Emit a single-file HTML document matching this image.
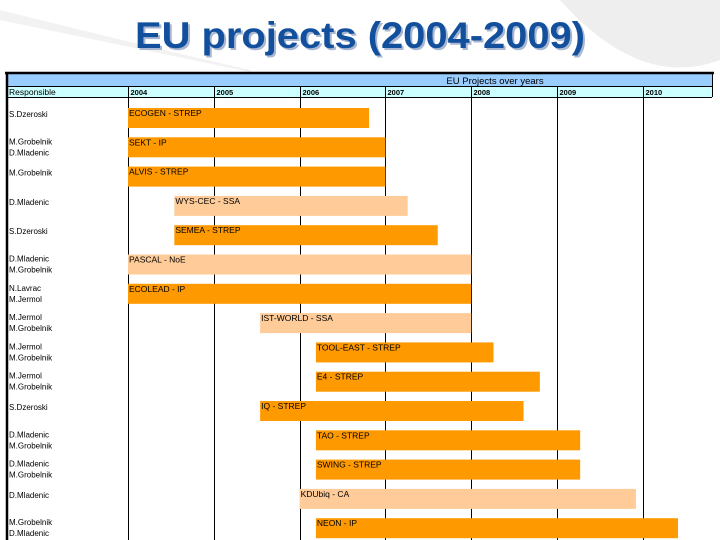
<!DOCTYPE html>
<html><head><meta charset="utf-8"><style>
html,body{margin:0;padding:0;background:#fff;}
svg{display:block;font-family:"Liberation Sans",Arial,sans-serif;}
</style></head><body>
<svg id="c" width="720" height="540" viewBox="0 0 720 540">
  <g>
    <rect x="0" y="0" width="720" height="540" fill="#ffffff"/>
    <path d="M560 0 Q640 90 720 60 L720 0 Z" fill="#eeeeee"/>
    <path d="M0 10 Q120 40 250 70 L250 72 Q120 45 0 20 Z" fill="#f2f2f2"/>
  </g>
  <text x="135" y="48" font-size="37" font-weight="bold" fill="#a9b8d0" textLength="450" lengthAdjust="spacingAndGlyphs" transform="translate(2,2)">EU projects (2004-2009)</text>
  <text x="135" y="48" font-size="37" font-weight="bold" fill="#124f9d" textLength="450" lengthAdjust="spacingAndGlyphs">EU projects (2004-2009)</text>
  <g>
    <rect x="7" y="74" width="705" height="12" fill="#99ccff"/>
    <text x="495" y="84" font-size="9.5" text-anchor="middle" fill="#000">EU Projects over years</text>
    <rect x="7" y="87" width="705" height="10" fill="#ccffff"/>
    <text x="9" y="95" font-size="8.5" fill="#000">Responsible</text>
  </g>
  <g id="grid"></g>
  <g id="bars"></g>
  <g id="names"></g>
  <g>
    <line x1="5" y1="73" x2="714" y2="73" stroke="#000" stroke-width="2.5"/>
    <line x1="7" y1="86.5" x2="712" y2="86.5" stroke="#000" stroke-width="1"/>
    <line x1="7" y1="97.5" x2="712" y2="97.5" stroke="#000" stroke-width="1"/>
    <line x1="7" y1="72" x2="7" y2="540" stroke="#000" stroke-width="2.5"/>
    <line x1="712.5" y1="73" x2="712.5" y2="97" stroke="#000" stroke-width="1"/>
  </g>
</svg>
<script>
const years = [2004, 2005, 2006, 2007, 2008, 2009, 2010];
const projects = ["ECOGEN - STREP","SEKT - IP","ALVIS - STREP","WYS-CEC - SSA","SEMEA - STREP","PASCAL - NoE","ECOLEAD - IP","IST-WORLD - SSA","TOOL-EAST - STREP","E4 - STREP","IQ - STREP","TAO - STREP","SWING - STREP","KDUbiq - CA","NEON - IP"];
const startYear = [2004.0,2004.0,2004.0,2004.54,2004.54,2004.0,2004.0,2005.54,2006.19,2006.19,2005.54,2006.19,2006.19,2006.0,2006.19];
const endYear = [2006.81,2007.0,2007.0,2007.26,2007.61,2008.0,2008.0,2008.0,2008.26,2008.8,2008.61,2009.27,2009.27,2009.92,2010.41];
const light = [0,0,0,1,0,1,0,1,0,0,0,0,0,1,0];
const responsible = [["S.Dzeroski"],["M.Grobelnik","D.Mladenic"],["M.Grobelnik"],["D.Mladenic"],["S.Dzeroski"],["D.Mladenic","M.Grobelnik"],["N.Lavrac","M.Jermol"],["M.Jermol","M.Grobelnik"],["M.Jermol","M.Grobelnik"],["M.Jermol","M.Grobelnik"],["S.Dzeroski"],["D.Mladenic","M.Grobelnik"],["D.Mladenic","M.Grobelnik"],["D.Mladenic"],["M.Grobelnik","D.Mladenic"]];

const NS = "http://www.w3.org/2000/svg";
function x(v){ return 128 + (v - 2004) * 85.8; }
function rowTop(i){ return 108 + i * 29.3; }
function mk(tag, attrs, parent){
  const e = document.createElementNS(NS, tag);
  for (const k in attrs) e.setAttribute(k, attrs[k]);
  parent.appendChild(e); return e;
}
const grid = document.getElementById("grid");
mk("line",{x1:128.5,y1:86,x2:128.5,y2:540,stroke:"#000","stroke-width":1},grid);
years.forEach(function(yv){
  const xx = Math.round(x(yv)) + 0.5;
  const l = mk("line",{x1:xx,y1:86,x2:xx,y2:540,stroke:"#000","stroke-width":1},grid);
  
  
  const t = mk("text",{x:xx+2,y:95,"font-size":7.5,"font-weight":"bold",fill:"#000"},grid);
  t.textContent = yv;
  
  
});
const bars = document.getElementById("bars");
const names = document.getElementById("names");
projects.forEach(function(p,i){
  const y0 = rowTop(i);
  const r = mk("rect",{x:x(startYear[i]),y:y0,width:x(endYear[i])-x(startYear[i]),height:20,fill:light[i]?"#ffcc99":"#ff9900"},bars);
  
  
  const t = mk("text",{x:x(startYear[i])+1,y:y0+8,"font-size":8.5,fill:"#000"},bars);
  t.textContent = p;
  
  
  const rs = responsible[i];
  rs.forEach(function(n,j){
    const yy = rs.length===1 ? y0+9 : y0+7+j*11;
    const nt = mk("text",{x:9,y:yy,"font-size":8,fill:"#000"},names);
    nt.textContent = n;
    
    
  });
});
</script>
</body></html>
